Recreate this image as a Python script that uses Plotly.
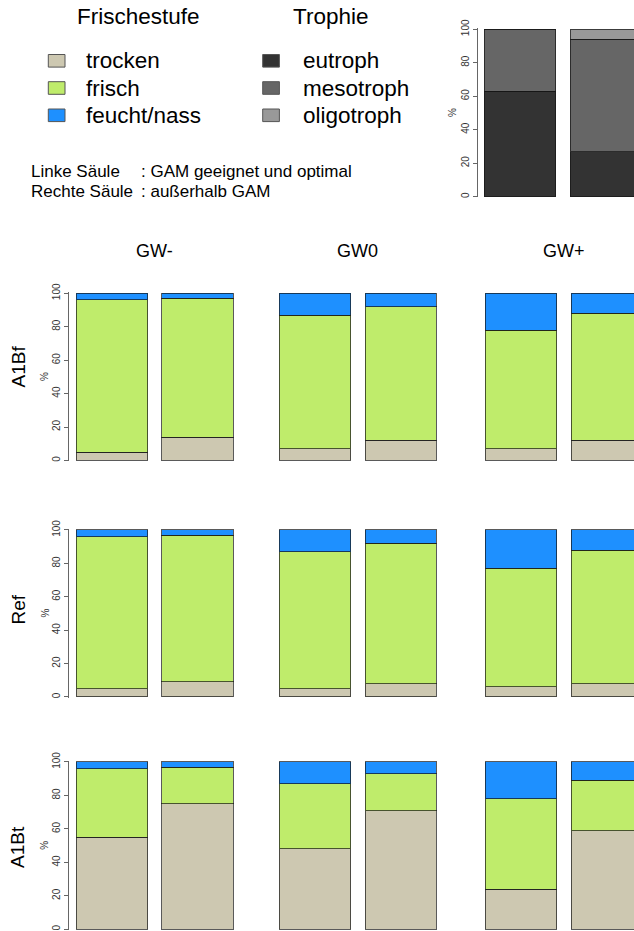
import plotly.graph_objects as go

W, H = 634, 931

# ---------------- data ----------------
columns = ["GW-", "GW0", "GW+"]
rows = ["A1Bf", "Ref", "A1Bt"]
bars = ["Linke Säule", "Rechte Säule"]

# per row: GW- (links, rechts), GW0 (links, rechts), GW+ (links, rechts)
trocken_A1Bf = [5, 14, 7, 12, 7, 12]
frisch_A1Bf = [91, 83, 80, 80, 71, 76]
feucht_A1Bf = [4, 3, 13, 8, 22, 12]

trocken_Ref = [5, 9, 5, 8, 6, 8]
frisch_Ref = [91, 88, 82, 84, 71, 80]
feucht_Ref = [4, 3, 13, 8, 23, 12]

trocken_A1Bt = [55, 75, 48, 71, 24, 59]
frisch_A1Bt = [41, 22, 39, 22, 54, 30]
feucht_A1Bt = [4, 3, 13, 7, 22, 11]

# Trophie inset: links, rechts
eutroph = [63, 27]
mesotroph = [37, 67]
oligotroph = [0, 6]

frische_labels = ["trocken", "frisch", "feucht/nass"]
trophie_labels = ["eutroph", "mesotroph", "oligotroph"]
yticks = [0, 20, 40, 60, 80, 100]

# ---------------- styles ----------------
frische_colors = ["#CDC8B1", "#BFEC6B", "#1E90FF"]
trophie_colors = ["#333333", "#666666", "#999999"]
FONT = "Liberation Sans, Arial, sans-serif"
EDGE = dict(color="rgba(20,20,20,0.7)", width=1)

row_data = {
    "A1Bf": [trocken_A1Bf, frisch_A1Bf, feucht_A1Bf],
    "Ref": [trocken_Ref, frisch_Ref, feucht_Ref],
    "A1Bt": [trocken_A1Bt, frisch_A1Bt, feucht_A1Bt],
}

def px_x(p):
    return p / W

def px_y(p):
    return 1 - p / H

# pixel geometry
SPACING = 85.7                      # px between bar centers
col_c0 = [111.8, 315.0, 521.0]      # centre of left bar
col_L = [69.3, 268.0, 476.0]
col_R = [240.0, 446.0, 634.0]
row_y100 = [293.3, 530.0, 762.0]
row_y0 = [460.5, 697.0, 929.3]
LO, HI = -0.4, 100.6

fig = go.Figure()
layout = dict(
    width=W, height=H, margin=dict(l=0, r=0, t=0, b=0, pad=0, autoexpand=False),
    paper_bgcolor="white", plot_bgcolor="white",
    barmode="stack", bargap=1 - 71.4 / SPACING, showlegend=False,
    font=dict(family=FONT, color="black"),
)

def add_axes(idx, L, R, c0, y100, y0, show_axis):
    k = (y0 - y100) / 100.0
    top = y100 - (HI - 100) * k
    bot = y0 + (0 - LO) * k
    xa = dict(domain=[px_x(L), min(px_x(R), 1.0)],
              range=[(L - c0) / SPACING, (R - c0) / SPACING],
              type="category", showticklabels=False, showgrid=False,
              zeroline=False, showline=False, ticks="", automargin=False,
              anchor="y" + (str(idx) if idx > 1 else ""), fixedrange=True)
    ya = dict(domain=[max(px_y(bot), 0.0), px_y(top)], range=[LO, HI],
              anchor="x" + (str(idx) if idx > 1 else ""), automargin=False,
              showgrid=False, zeroline=False, fixedrange=True)
    if show_axis:
        ya.update(showline=True, linecolor="#666", linewidth=1,
                  ticks="outside", ticklen=4, tickcolor="#666",
                  tickvals=yticks, ticktext=[str(v) for v in yticks],
                  tickangle=-90, tickfont=dict(size=10, color="#333"))
    else:
        ya.update(visible=False)
    sfx = str(idx) if idx > 1 else ""
    layout["xaxis" + sfx] = xa
    layout["yaxis" + sfx] = ya
    return sfx

annotations = []
shapes = []

# ---------------- main panels ----------------
for r, rname in enumerate(rows):
    for c, cname in enumerate(columns):
        idx = r * 3 + c + 1
        sfx = add_axes(idx, col_L[c], col_R[c], col_c0[c],
                       row_y100[r], row_y0[r], c == 0)
        for s, series in enumerate(row_data[rname]):
            vals = series[2 * c: 2 * c + 2]
            fig.add_trace(go.Bar(
                x=bars, y=vals, name=frische_labels[s],
                marker=dict(color=frische_colors[s], line=EDGE),
                xaxis="x" + sfx, yaxis="y" + sfx, hoverinfo="skip"))
    ymid = (row_y100[r] + row_y0[r]) / 2
    label_y = [367, 610, 847.5][r]
    annotations.append(dict(text=rname, x=px_x(17.5), y=px_y(label_y),
                            xref="paper", yref="paper", showarrow=False,
                            textangle=-90, font=dict(size=19),
                            xanchor="center", yanchor="middle"))
    annotations.append(dict(text="%", x=px_x(45), y=px_y(ymid),
                            xref="paper", yref="paper", showarrow=False,
                            textangle=-90, font=dict(size=10, color="#333"),
                            xanchor="center", yanchor="middle"))

# column titles
for c, cname in enumerate(columns):
    cx = col_c0[c] + SPACING / 2
    annotations.append(dict(text=cname, x=px_x(cx), y=px_y(251),
                            xref="paper", yref="paper", showarrow=False,
                            font=dict(size=18), xanchor="center",
                            yanchor="middle"))

# ---------------- Trophie inset ----------------
sfx = add_axes(10, 477.7, 634.0, 520.0, 29.3, 196.7, True)
for s, series in enumerate([eutroph, mesotroph, oligotroph]):
    fig.add_trace(go.Bar(
        x=bars, y=series, name=trophie_labels[s],
        marker=dict(color=trophie_colors[s], line=EDGE),
        xaxis="x" + sfx, yaxis="y" + sfx, hoverinfo="skip"))
annotations.append(dict(text="%", x=px_x(453), y=px_y(113),
                        xref="paper", yref="paper", showarrow=False,
                        textangle=-90, font=dict(size=10, color="#333"),
                        xanchor="center", yanchor="middle"))

# ---------------- legend (drawn) ----------------
annotations.append(dict(text="Frischestufe", x=px_x(138.7), y=px_y(17),
                        xref="paper", yref="paper", showarrow=False,
                        font=dict(size=22.5), xanchor="center", yanchor="middle"))
annotations.append(dict(text="Trophie", x=px_x(330), y=px_y(17),
                        xref="paper", yref="paper", showarrow=False,
                        font=dict(size=22.5), xanchor="center", yanchor="middle"))
leg_rows_y = [60.8, 88.0, 115.3]
for i in range(3):
    cy = leg_rows_y[i]
    for (sx, tx, labels, cols) in [(48.3, 84.3, frische_labels, frische_colors),
                                   (262.7, 301.0, trophie_labels, trophie_colors)]:
        shapes.append(dict(type="rect", xref="paper", yref="paper",
                           x0=px_x(sx), x1=px_x(sx + 16.7),
                           y0=px_y(cy + 6.3), y1=px_y(cy - 6.3),
                           fillcolor=cols[i],
                           line=dict(color="#555", width=1)))
        annotations.append(dict(text=labels[i], x=px_x(tx), y=px_y(cy),
                                xref="paper", yref="paper", showarrow=False,
                                font=dict(size=22.5), xanchor="left",
                                yanchor="middle"))

notes = [("Linke Säule", ": GAM geeignet und optimal", 171.7),
         ("Rechte Säule", ": außerhalb GAM", 191.7)]
for left, right, y in notes:
    annotations.append(dict(text=left, x=px_x(29), y=px_y(y), xref="paper",
                            yref="paper", showarrow=False,
                            font=dict(size=17), xanchor="left",
                            yanchor="middle"))
    annotations.append(dict(text=right, x=px_x(138.5), y=px_y(y), xref="paper",
                            yref="paper", showarrow=False,
                            font=dict(size=17), xanchor="left",
                            yanchor="middle"))

layout["annotations"] = annotations
layout["shapes"] = shapes
fig.update_layout(**layout)
fig.write_html("out.html",
               config={"displayModeBar": False, "staticPlot": True},
               post_script="document.body.style.margin='0px';"
                           "document.body.style.overflow='hidden';")
